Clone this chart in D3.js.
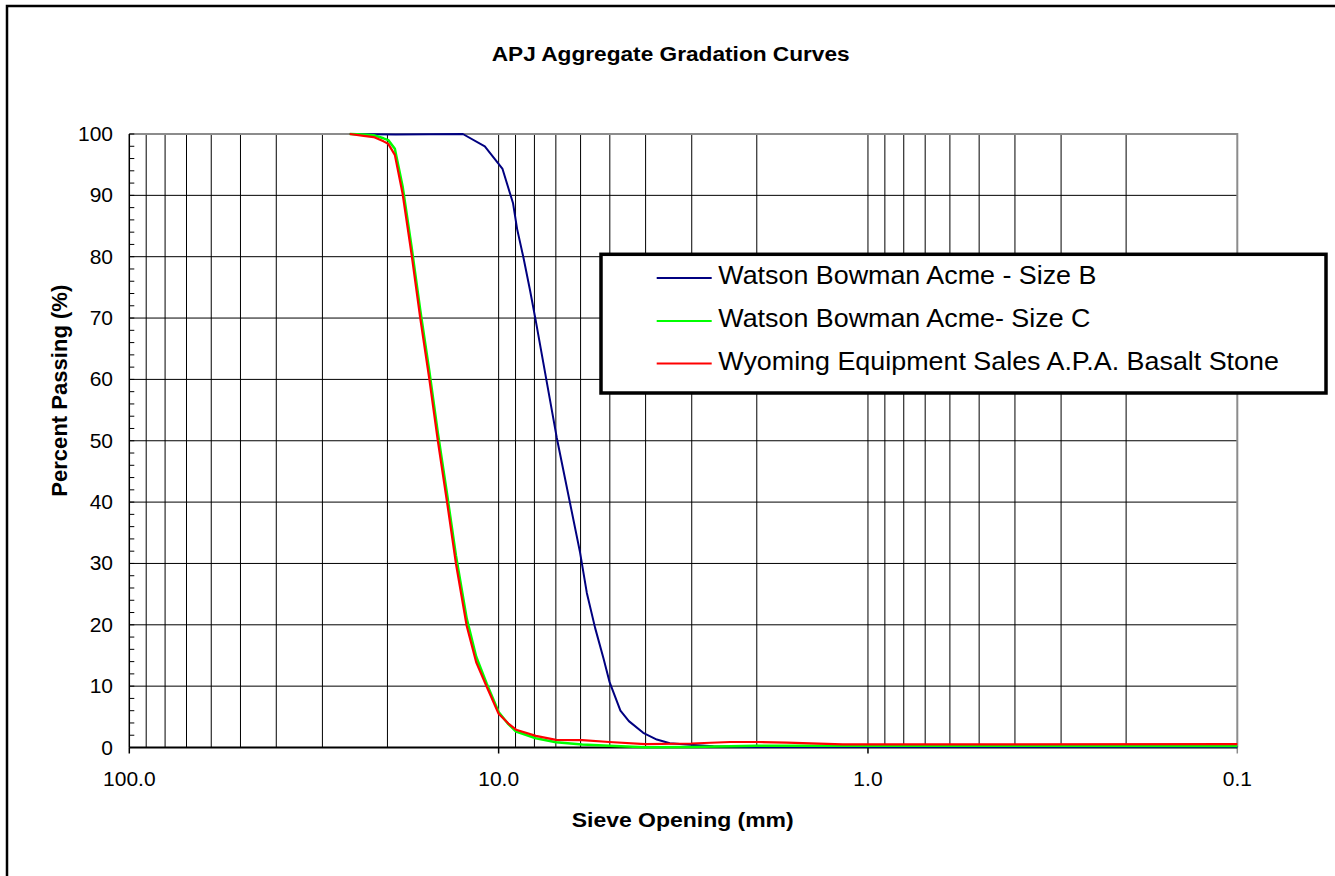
<!DOCTYPE html>
<html>
<head>
<meta charset="utf-8">
<script src="https://cdn.jsdelivr.net/npm/d3@7"></script>
<style>
  body { margin: 0; background: #fff; }
  svg { display: block; font-family: "Liberation Sans", Arial, sans-serif; }
</style>
</head>
<body>
<div id="chart"></div>
<script>
// Textos do gráfico
const chartTitle = "APJ Aggregate Gradation Curves";
const xTitle = "Sieve Opening (mm)";
const yTitle = "Percent Passing (%)";
const seriesNames = [
  "Watson Bowman Acme - Size B",
  "Watson Bowman Acme- Size C",
  "Wyoming Equipment Sales A.P.A. Basalt Stone"
];
const seriesColors = ["#000080", "#00ff00", "#ff0000"];
const seriesWidths = [2, 2.5, 2.2];

// Valores dos eixos
const xTickValues = [100, 10, 1, 0.1];
const yTickValues = [0, 10, 20, 30, 40, 50, 60, 70, 80, 90, 100];

// Watson Bowman Acme - Size B
const sieveB = [25.3, 19.0, 12.5, 10.9, 9.76, 9.14, 8.91, 8.57, 8.22, 7.93, 6.96, 6.02, 5.77, 5.48, 5.20, 5.01, 4.68, 4.44, 4.06, 3.73, 3.44, 2.97, 2.62, 2.13, 1.0, 0.1];
const passB  = [100, 99.9, 100, 98.0, 94.3, 88.7, 84.5, 79.9, 74.5, 69.5, 50.5, 31.8, 25.2, 19.5, 14.5, 10.7, 6.0, 4.3, 2.4, 1.3, 0.7, 0.4, 0.2, 0.1, 0.1, 0.1];

// Watson Bowman Acme- Size C
const sieveC = [25.3, 23.2, 21.8, 20.5, 19.9, 19.1, 18.2, 17.2, 16.3, 15.4, 14.6, 13.8, 13.05, 12.2, 11.5, 10.77, 10.0, 9.41, 8.97, 7.93, 6.99, 5.94, 5.02, 4.01, 3.01, 2.0, 1.17, 0.1];
const passC  = [100, 99.9, 99.8, 99.3, 99.0, 97.6, 91.5, 81.5, 71.3, 61.3, 51.2, 41.4, 31.3, 21.0, 14.8, 10.4, 5.8, 3.8, 2.6, 1.5, 0.85, 0.5, 0.3, 0.05, 0.1, 0.3, 0.3, 0.25];

// Wyoming Equipment Sales A.P.A. Basalt Stone
const sieveW = [25.3, 23.2, 21.8, 20.5, 19.9, 19.1, 18.2, 17.2, 16.3, 15.4, 14.6, 13.8, 13.05, 12.2, 11.5, 10.77, 10.0, 9.41, 8.97, 7.93, 6.99, 5.94, 5.02, 4.01, 3.01, 2.36, 2.0, 1.66, 1.17, 0.93, 0.1];
const passW  = [100, 99.7, 99.5, 98.8, 98.4, 96.6, 90.3, 80.3, 70.0, 60.0, 49.9, 40.1, 30.0, 19.8, 13.9, 9.9, 5.5, 3.9, 2.9, 1.9, 1.25, 1.2, 0.9, 0.55, 0.65, 0.9, 0.9, 0.8, 0.5, 0.5, 0.55];

const allSeries = [
  sieveB.map((d, i) => [d, passB[i]]),
  sieveC.map((d, i) => [d, passC[i]]),
  sieveW.map((d, i) => [d, passW[i]])
];

const width = 1335, height = 876;
const plot = { left: 129.3, right: 1237.3, top: 134, bottom: 747.5 };

const svg = d3.select("#chart").append("svg")
  .attr("width", width)
  .attr("height", height);

// Moldura externa do gráfico
svg.append("rect")
  .attr("x", 7).attr("y", 6)
  .attr("width", 1400).attr("height", 1000)
  .attr("fill", "#fff")
  .attr("stroke", "#000")
  .attr("stroke-width", 2.5);

// Escalas: logarítmica invertida no X, linear no Y
const x = d3.scaleLog().domain([100, 0.1]).range([plot.left, plot.right]);
const y = d3.scaleLinear().domain([0, 100]).range([plot.bottom, plot.top]);

// Linhas de grade verticais (todas as divisões do log)
const vGrid = x.ticks().filter(v => v < 99.9 && v > 0.11);
svg.append("g").selectAll("line")
  .data(vGrid)
  .enter().append("line")
  .attr("x1", d => x(d)).attr("x2", d => x(d))
  .attr("y1", plot.top).attr("y2", plot.bottom)
  .attr("stroke", "#000")
  .attr("stroke-width", 1);

// Linhas de grade horizontais
svg.append("g").selectAll("line")
  .data(yTickValues.filter(v => v > 0 && v < 100))
  .enter().append("line")
  .attr("x1", plot.left).attr("x2", plot.right)
  .attr("y1", d => y(d)).attr("y2", d => y(d))
  .attr("stroke", "#000")
  .attr("stroke-width", 1);

// Borda superior e direita em cinza
svg.append("path")
  .attr("d", `M${plot.left},${y(100)}H${x(0.1)}V${y(0)}`)
  .attr("fill", "none")
  .attr("stroke", "#8c8c8c")
  .attr("stroke-width", 2);

// Eixo Y: marcas menores a cada 2 unidades, para dentro
svg.append("g").selectAll("line")
  .data(d3.range(0, 101, 2))
  .enter().append("line")
  .attr("x1", plot.left).attr("x2", plot.left + 5)
  .attr("y1", d => y(d)).attr("y2", d => y(d))
  .attr("stroke", "#000")
  .attr("stroke-width", 1);

svg.append("line")
  .attr("x1", plot.left).attr("x2", plot.left)
  .attr("y1", plot.top).attr("y2", plot.bottom)
  .attr("stroke", "#000")
  .attr("stroke-width", 1.5);

// Eixo X com marcas nas décadas
svg.append("g").selectAll("line")
  .data(xTickValues)
  .enter().append("line")
  .attr("x1", d => x(d)).attr("x2", d => x(d))
  .attr("y1", plot.bottom).attr("y2", plot.bottom + 6)
  .attr("stroke", (d, i) => i === xTickValues.length - 1 ? "#8c8c8c" : "#000")
  .attr("stroke-width", 1.5);

svg.append("line")
  .attr("x1", plot.left).attr("x2", plot.right)
  .attr("y1", plot.bottom).attr("y2", plot.bottom)
  .attr("stroke", "#000")
  .attr("stroke-width", 2);

// Rótulos do eixo Y
svg.append("g").selectAll("text")
  .data(yTickValues)
  .enter().append("text")
  .attr("transform", d => `translate(113,${y(d) + 7}) scale(1.05,1)`)
  .attr("text-anchor", "end")
  .attr("font-size", "20px")
  .attr("fill", "#000")
  .text(d => d);

// Rótulos do eixo X
svg.append("g").selectAll("text")
  .data(xTickValues)
  .enter().append("text")
  .attr("transform", d => `translate(${x(d)},786) scale(1.05,1)`)
  .attr("text-anchor", "middle")
  .attr("font-size", "20px")
  .attr("fill", "#000")
  .text(d => d3.format(".1f")(d));

// Curvas granulométricas
const line = d3.line()
  .x(d => x(d[0]))
  .y(d => y(d[1]));

allSeries.forEach((s, i) => {
  svg.append("path")
    .datum(s)
    .attr("d", line)
    .attr("fill", "none")
    .attr("stroke", seriesColors[i])
    .attr("stroke-width", seriesWidths[i])
    .attr("stroke-linejoin", "round");
});

// Títulos
svg.append("text")
  .attr("x", 491.7).attr("y", 60.7)
  .attr("font-size", "20px")
  .attr("font-weight", "bold")
  .attr("textLength", 358)
  .attr("lengthAdjust", "spacingAndGlyphs")
  .text(chartTitle);

svg.append("text")
  .attr("x", 571.7).attr("y", 827)
  .attr("font-size", "20px")
  .attr("font-weight", "bold")
  .attr("textLength", 222)
  .attr("lengthAdjust", "spacingAndGlyphs")
  .text(xTitle);

svg.append("text")
  .attr("transform", "translate(67.3,496.7) rotate(-90)")
  .attr("font-size", "22px")
  .attr("font-weight", "bold")
  .attr("textLength", 212)
  .attr("lengthAdjust", "spacingAndGlyphs")
  .text(yTitle);

// Legenda
const legend = svg.append("g");
legend.append("rect")
  .attr("x", 601).attr("y", 254.3)
  .attr("width", 1326 - 601).attr("height", 393 - 254.3)
  .attr("fill", "#fff")
  .attr("stroke", "#000")
  .attr("stroke-width", 3.5);

const legendBaselines = [284, 327, 369.5];
seriesNames.forEach((name, i) => {
  legend.append("line")
    .attr("x1", 656.7).attr("x2", 711.7)
    .attr("y1", legendBaselines[i] - 6).attr("y2", legendBaselines[i] - 6)
    .attr("stroke", seriesColors[i])
    .attr("stroke-width", 2);
  legend.append("text")
    .attr("transform", `translate(718.3,${legendBaselines[i]}) scale(1.075,1)`)
    .attr("font-size", "25px")
    .attr("fill", "#000")
    .text(name);
});
</script>
</body>
</html>
